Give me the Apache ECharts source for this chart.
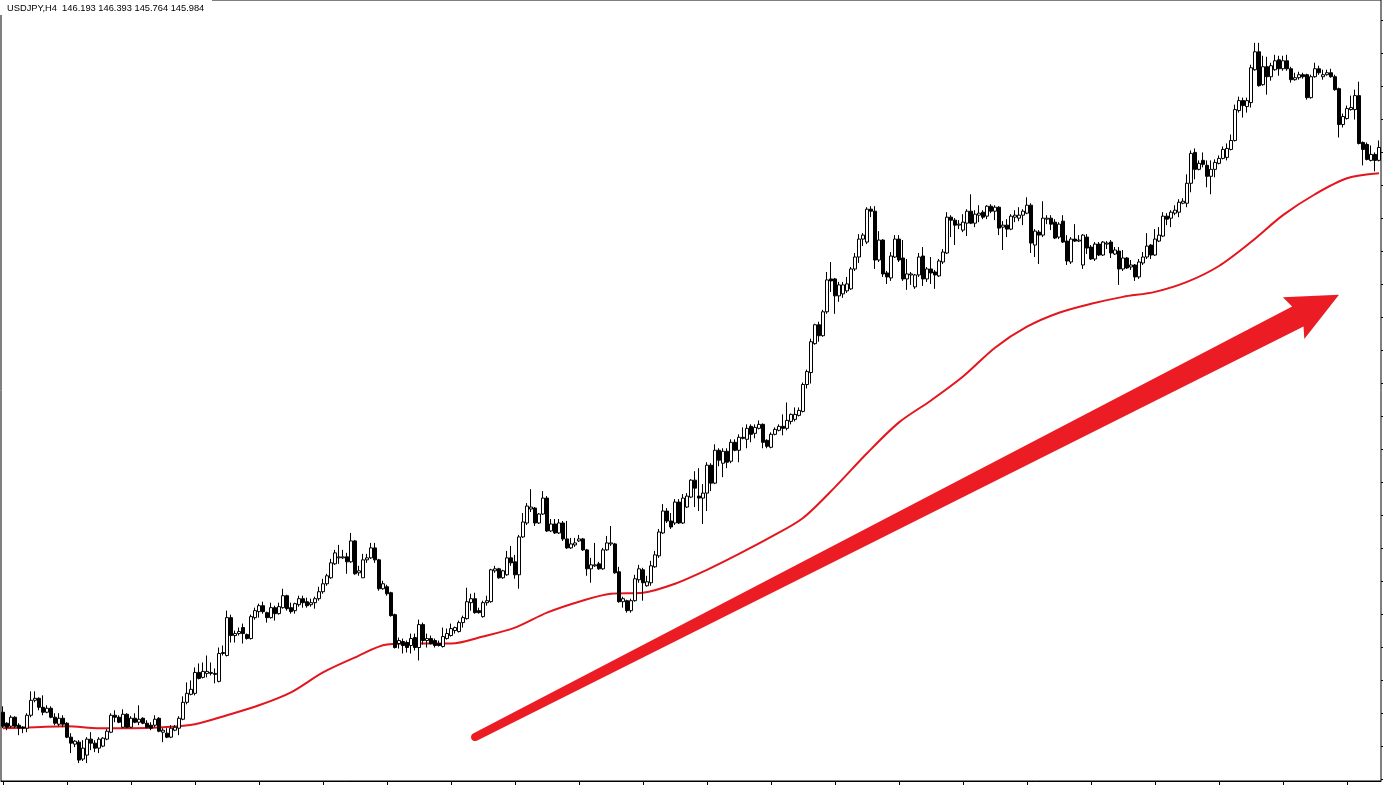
<!DOCTYPE html>
<html><head><meta charset="utf-8">
<script src="https://cdn.jsdelivr.net/npm/echarts@6/dist/echarts.min.js"></script>
<style>html,body{margin:0;padding:0;background:#fff;overflow:hidden}#c{width:1383px;height:785px}</style>
</head><body><div id="c"></div><script>
const headerText = 'USDJPY,H4  146.193 146.393 145.764 145.984';

const openP = [140.38,140.27,140.24,140.33,140.25,140.23,140.22,140.35,140.50,140.52,
140.43,140.38,140.42,140.33,140.26,140.32,140.27,140.13,140.06,140.08,
139.91,139.95,140.11,140.07,140.02,140.04,140.11,140.18,140.35,140.33,
140.23,140.36,140.23,140.32,140.28,140.32,140.27,140.25,140.25,140.32,
140.18,140.17,140.13,140.20,140.22,140.31,140.48,140.56,140.57,140.78,
140.73,140.77,140.77,140.76,140.69,140.97,140.95,141.33,141.15,141.17,
141.23,141.16,141.12,141.33,141.39,141.45,141.38,141.33,141.43,141.37,
141.43,141.55,141.43,141.40,141.46,141.52,141.49,141.46,141.48,141.52,
141.59,141.67,141.73,141.87,141.93,141.93,141.94,141.89,142.10,141.78,
141.73,141.91,141.93,142.03,141.91,141.62,141.64,141.58,141.36,141.07,
141.09,141.08,141.05,141.13,141.03,141.26,141.10,141.12,141.10,141.07,
141.04,141.12,141.15,141.20,141.19,141.28,141.32,141.48,141.52,141.40,
141.34,141.48,141.49,141.80,141.82,141.73,141.76,141.93,141.89,141.76,
142.14,142.28,142.42,142.43,142.28,142.37,142.53,142.20,142.27,142.18,
142.28,142.12,142.03,142.06,142.10,142.12,142.01,141.82,141.85,141.87,
141.82,142.01,142.07,142.07,141.79,141.49,141.50,141.40,141.50,141.71,
141.81,141.65,141.68,141.84,141.95,142.18,142.40,142.30,142.28,142.49,
142.28,142.44,142.54,142.71,142.55,142.53,142.58,142.86,142.68,143.01,
142.88,143.00,142.90,143.09,143.01,143.14,143.12,143.25,143.18,143.23,
143.27,143.11,143.04,143.17,143.21,143.25,143.23,143.30,143.32,143.36,
143.40,143.67,143.79,144.08,144.27,144.16,144.40,144.73,144.73,144.56,
144.58,144.61,144.63,144.83,144.95,145.13,145.10,145.43,145.41,144.92,
145.12,144.79,144.74,144.95,145.13,144.94,144.73,144.77,144.65,144.77,
144.96,144.73,144.83,144.80,144.76,144.90,144.99,145.35,145.32,145.27,
145.22,145.29,145.41,145.29,145.37,145.40,145.36,145.46,145.41,145.45,
145.25,145.27,145.23,145.35,145.34,145.37,145.39,145.47,145.07,145.20,
145.17,145.33,145.34,145.30,145.15,145.31,145.11,144.90,145.13,145.11,
144.87,145.15,145.05,144.93,145.08,144.97,145.08,145.10,144.98,145.01,
144.83,144.94,144.85,144.87,144.75,144.89,144.95,145.07,144.97,145.11,
145.16,145.36,145.34,145.39,145.40,145.49,145.49,145.69,146.00,145.83,
145.92,145.87,145.76,145.83,145.89,145.94,145.95,146.03,146.12,146.42,
146.52,146.46,146.50,146.83,147.01,146.68,146.86,146.76,146.83,146.93,
146.84,146.92,146.84,146.73,146.75,146.78,146.78,146.55,146.76,146.84,
146.76,146.78,146.80,146.76,146.64,146.28,146.34,146.43,146.43,146.57,
146.10,146.08,145.92,145.98,145.92];

const closeP = [140.24,140.23,140.33,140.24,140.22,140.22,140.35,140.50,140.52,140.43,
140.38,140.42,140.33,140.27,140.32,140.26,140.13,140.07,140.09,139.90,
140.02,140.11,140.07,140.02,140.11,140.12,140.19,140.35,140.33,140.28,
140.36,140.23,140.32,140.28,140.31,140.27,140.23,140.22,140.31,140.19,
140.20,140.13,140.22,140.23,140.32,140.48,140.57,140.61,140.78,140.72,
140.79,140.79,140.78,140.77,140.97,140.98,141.33,141.15,141.17,141.19,
141.17,141.12,141.34,141.40,141.45,141.39,141.33,141.43,141.37,141.44,
141.55,141.42,141.39,141.47,141.52,141.48,141.45,141.48,141.52,141.59,
141.67,141.75,141.88,141.98,141.94,141.94,141.89,142.10,141.77,141.80,
141.91,141.93,142.03,141.91,141.62,141.67,141.57,141.35,141.03,141.10,
141.05,141.03,141.12,141.03,141.26,141.10,141.12,141.07,141.05,141.05,
141.14,141.17,141.22,141.23,141.28,141.33,141.49,141.52,141.38,141.38,
141.48,141.50,141.81,141.82,141.73,141.80,141.93,141.88,141.76,142.14,
142.29,142.45,142.44,142.28,142.37,142.53,142.20,142.27,142.18,142.28,
142.12,142.03,142.07,142.08,142.12,142.01,141.82,141.86,141.86,141.82,
142.01,142.08,142.08,141.78,141.49,141.52,141.40,141.50,141.72,141.82,
141.68,141.69,141.85,141.96,142.19,142.40,142.30,142.24,142.49,142.28,
142.53,142.55,142.71,142.63,142.53,142.58,142.86,142.68,143.01,142.91,
143.00,142.89,143.09,143.01,143.14,143.13,143.23,143.17,143.24,143.27,
143.09,143.05,143.17,143.22,143.25,143.23,143.31,143.37,143.37,143.41,
143.67,143.80,144.10,144.27,144.16,144.40,144.72,144.71,144.56,144.67,
144.67,144.68,144.83,144.95,145.13,145.17,145.43,145.41,144.92,145.12,
144.78,144.75,144.96,145.13,144.92,144.73,144.78,144.78,144.77,144.95,
144.73,144.83,144.79,144.77,144.91,145.00,145.35,145.32,145.27,145.28,
145.30,145.41,145.29,145.38,145.39,145.35,145.46,145.41,145.45,145.24,
145.27,145.23,145.36,145.37,145.37,145.41,145.47,145.09,145.21,145.17,
145.34,145.34,145.28,145.14,145.28,145.10,144.91,145.13,145.11,145.12,
145.17,145.04,144.93,145.08,144.97,145.10,145.09,144.99,145.02,144.83,
144.94,144.84,144.87,144.75,144.90,144.95,145.06,144.97,145.13,145.17,
145.36,145.33,145.40,145.42,145.50,145.51,145.69,145.99,145.83,145.89,
145.88,145.76,145.83,145.90,145.94,146.03,146.04,146.12,146.43,146.52,
146.47,146.52,146.85,147.01,146.67,146.86,146.76,146.87,146.92,146.84,
146.92,146.84,146.73,146.75,146.78,146.76,146.55,146.76,146.84,146.80,
146.78,146.80,146.76,146.63,146.28,146.36,146.44,146.45,146.57,146.09,
146.03,145.93,145.98,145.92,146.05];

const lowP = [140.22,140.20,140.22,140.22,140.15,140.17,140.18,140.33,140.48,140.40,
140.35,140.37,140.32,140.25,140.24,140.23,140.12,139.97,140.03,139.87,
139.89,139.87,140.00,139.98,139.97,140.03,140.10,140.17,140.28,140.27,
140.22,140.22,140.22,140.27,140.25,140.26,140.22,140.20,140.23,140.18,
140.08,140.12,140.12,140.19,140.15,140.30,140.46,140.55,140.55,140.71,
140.72,140.73,140.75,140.67,140.68,140.95,140.94,141.08,141.08,141.15,
141.07,141.11,141.11,141.31,141.33,141.37,141.28,141.32,141.30,141.36,
141.42,141.40,141.37,141.37,141.44,141.43,141.43,141.44,141.42,141.50,
141.57,141.65,141.72,141.86,141.87,141.92,141.77,141.88,141.76,141.75,
141.73,141.88,141.92,141.88,141.60,141.61,141.55,141.34,141.02,141.02,
140.97,140.98,140.97,141.00,140.90,141.06,141.03,141.06,141.03,141.04,
141.03,141.11,141.14,141.17,141.18,141.23,141.31,141.40,141.37,141.37,
141.33,141.45,141.48,141.78,141.72,141.72,141.75,141.85,141.72,141.62,
142.13,142.26,142.39,142.25,142.27,142.36,142.19,142.19,142.17,142.17,
142.10,142.02,142.02,142.04,142.09,142.00,141.75,141.68,141.84,141.81,
141.81,142.00,142.05,141.77,141.48,141.43,141.38,141.38,141.49,141.68,
141.50,141.64,141.65,141.83,141.93,142.17,142.28,142.22,142.26,142.27,
142.27,142.43,142.53,142.44,142.40,142.27,142.40,142.60,142.67,142.85,
142.74,142.83,142.88,143.00,142.89,143.12,143.03,143.09,143.13,143.22,
143.03,143.03,143.03,143.16,143.20,143.16,143.21,143.27,143.30,143.35,
143.39,143.63,143.68,144.07,144.10,144.15,144.38,144.60,144.38,144.50,
144.54,144.59,144.62,144.81,144.89,145.06,145.08,145.35,144.83,144.90,
144.75,144.68,144.71,144.94,144.90,144.71,144.62,144.67,144.63,144.75,
144.66,144.70,144.68,144.63,144.75,144.88,144.98,145.15,145.07,145.23,
145.20,145.16,145.28,145.25,145.30,145.33,145.33,145.39,145.32,145.17,
145.02,145.15,145.22,145.30,145.31,145.27,145.38,144.99,144.95,144.88,
145.15,145.28,145.22,145.13,145.13,145.09,144.87,144.88,145.10,145.10,
144.83,144.98,144.92,144.91,144.96,144.96,145.03,144.94,144.97,144.67,
144.81,144.83,144.82,144.71,144.73,144.87,144.93,144.93,144.96,145.10,
145.15,145.27,145.25,145.37,145.35,145.48,145.45,145.60,145.73,145.82,
145.85,145.65,145.58,145.75,145.88,145.93,145.92,146.02,146.11,146.40,
146.35,146.40,146.45,146.82,146.66,146.67,146.58,146.72,146.82,146.77,
146.82,146.82,146.70,146.72,146.73,146.74,146.53,146.54,146.75,146.78,
146.73,146.77,146.75,146.62,146.15,146.25,146.33,146.42,146.33,146.08,
145.87,145.92,145.91,145.81,145.91];

const highP = [140.44,140.28,140.35,140.34,140.27,140.24,140.37,140.59,140.59,140.53,
140.55,140.45,140.44,140.37,140.37,140.35,140.28,140.17,140.10,140.10,
140.10,140.13,140.18,140.10,140.13,140.13,140.21,140.37,140.40,140.35,
140.41,140.37,140.34,140.37,140.45,140.33,140.30,140.28,140.35,140.33,
140.22,140.22,140.25,140.25,140.34,140.54,140.68,140.70,140.83,140.87,
140.88,140.95,140.88,140.82,141.03,141.05,141.40,141.36,141.20,141.23,
141.27,141.17,141.36,141.43,141.47,141.49,141.39,141.48,141.45,141.48,
141.62,141.56,141.48,141.48,141.55,141.55,141.53,141.52,141.54,141.64,
141.72,141.77,141.92,142.01,142.06,142.01,141.98,142.18,142.11,141.85,
141.97,141.97,142.08,142.08,141.92,141.70,141.66,141.59,141.37,141.13,
141.12,141.10,141.17,141.17,141.31,141.28,141.17,141.15,141.12,141.10,
141.23,141.22,141.27,141.24,141.30,141.35,141.63,141.57,141.58,141.43,
141.50,141.55,141.82,141.85,141.83,141.81,142.00,142.05,141.96,142.16,
142.38,142.48,142.62,142.44,142.38,142.60,142.55,142.32,142.32,142.32,
142.30,142.30,142.13,142.13,142.16,142.13,142.02,141.93,142.08,141.89,
142.03,142.15,142.25,142.08,141.84,141.54,141.51,141.52,141.76,141.86,
141.83,141.75,141.90,142.00,142.22,142.47,142.43,142.38,142.52,142.52,
142.57,142.58,142.72,142.80,142.83,142.67,142.89,142.88,143.07,143.03,
143.03,143.03,143.12,143.12,143.17,143.24,143.27,143.27,143.27,143.31,
143.28,143.12,143.19,143.24,143.27,143.37,143.49,143.38,143.44,143.44,
143.69,143.82,144.13,144.28,144.30,144.42,144.80,144.90,144.74,144.70,
144.70,144.75,144.85,144.99,145.18,145.19,145.45,145.46,145.46,145.21,
145.13,144.81,145.00,145.17,145.17,145.12,144.93,144.80,144.78,144.99,
145.05,144.85,144.95,144.82,144.93,145.03,145.40,145.37,145.34,145.32,
145.38,145.43,145.58,145.42,145.47,145.42,145.47,145.48,145.47,145.46,
145.31,145.33,145.38,145.42,145.45,145.43,145.55,145.49,145.23,145.22,
145.51,145.37,145.37,145.33,145.30,145.37,145.17,145.15,145.28,145.17,
145.18,145.18,145.07,145.10,145.10,145.11,145.11,145.12,145.05,145.05,
145.02,144.95,144.92,144.88,144.93,145.00,145.19,145.08,145.23,145.25,
145.40,145.39,145.42,145.47,145.53,145.54,145.78,146.02,146.04,145.92,
146.00,145.92,145.92,145.93,145.97,146.06,146.09,146.18,146.48,146.56,
146.55,146.55,146.88,147.10,147.10,146.97,146.96,146.90,146.98,146.97,
146.97,146.98,146.86,146.80,146.81,146.80,146.79,146.78,146.90,146.87,
146.83,146.83,146.84,146.78,146.65,146.39,146.47,146.57,146.63,146.71,
146.11,146.10,146.07,146.00,146.12];

// moving average read every 8th bar
const maIndex = [0,8,16,24,32,40,48,56,64,72,80,88,96,104,112,120,128,136,144,152,160,168,176,184,192,200,208,216,224,232,240,248,256,264,272,280,288,296,304,312,320,328,336,344];
const maValue = [140.22,140.23,140.24,140.22,140.22,140.23,140.26,140.35,140.45,140.58,140.78,140.93,141.06,141.07,141.07,141.14,141.23,141.38,141.49,141.57,141.58,141.67,141.81,141.97,142.14,142.33,142.64,142.98,143.29,143.51,143.75,144.04,144.25,144.39,144.48,144.55,144.60,144.70,144.86,145.10,145.37,145.58,145.74,145.79];

// trend arrow annotation: [tail bar, tail price, tip bar, tip price]
const arrowPoints = [117.5, 140.13, 333.5, 144.57];

const categories = openP.map((_, i) => String(i));
const candles = openP.map((o, i) => [o, closeP[i], lowP[i], highP[i]]);
const maData = categories.map(() => null);
maIndex.forEach((idx, k) => { maData[idx] = maValue[k]; });

const chart = echarts.init(document.getElementById('c'), null, {renderer: 'canvas'});
chart.setOption({
  animation: false,
  backgroundColor: '#ffffff',
  grid: [
    {left: 1, right: 2, top: -3, bottom: 4, show: true, borderColor: '#000', borderWidth: 1, backgroundColor: '#fff'},
    {left: 1, right: 2, top: 20, bottom: 6}
  ],
  xAxis: [
    {type: 'category', data: categories, boundaryGap: true, gridIndex: 0,
     axisLine: {show: true, onZero: false, lineStyle: {color: '#000', width: 1}},
     axisTick: {show: true, interval: 15, alignWithLabel: true, length: 4, lineStyle: {color: '#000'}},
     axisLabel: {show: false}, splitLine: {show: false}},
    {type: 'value', gridIndex: 1, show: false, min: 0, max: 1}
  ],
  yAxis: [
    {type: 'value', gridIndex: 0, min: 139.69, max: 147.53, scale: true,
     axisLine: {show: false}, axisTick: {show: false}, axisLabel: {show: false}, splitLine: {show: false}},
    {type: 'value', gridIndex: 1, min: 0, max: 23, interval: 1, position: 'right',
     axisLine: {show: false, onZero: false}, axisTick: {show: true, length: 3, lineStyle: {color: '#000'}},
     axisLabel: {show: false}, splitLine: {show: false}}
  ],
  graphic: [
    {type: 'rect', left: 0, top: 0, z: 99, shape: {width: 212, height: 15}, style: {fill: '#fff'}},
    {type: 'text', left: 7, top: 4, z: 100,
     style: {text: headerText, font: '9.3px "Liberation Sans", Arial, sans-serif', fill: '#000'}}
  ],
  series: [
    {type: 'line', data: maData, connectNulls: true, showSymbol: false, symbol: 'none', smooth: 0.3,
     lineStyle: {color: '#e3161d', width: 2}, silent: true, z: 2},
    {type: 'candlestick', data: candles, barWidth: 3, z: 3,
     itemStyle: {color: '#ffffff', color0: '#000000', borderColor: '#000000', borderColor0: '#000000', borderWidth: 1}},
    {type: 'custom', data: [arrowPoints], clip: false, silent: true, z: 5,
     encode: {x: 0, y: 1},
     renderItem: function (params, api) {
       const t = api.coord([api.value(0), api.value(1)]);
       const p = api.coord([api.value(2), api.value(3)]);
       const dx = p[0] - t[0], dy = p[1] - t[1];
       const L = Math.hypot(dx, dy);
       const ux = dx / L, uy = dy / L, nx = -uy, ny = ux;
       const pt = (a, b) => [t[0] + ux * a + nx * b, t[1] + uy * a + ny * b];
       const pts = [];
       const r = 4;
       for (let k = 0; k <= 10; k++) {
         const ang = Math.PI / 2 + Math.PI * k / 10;
         pts.push(pt(r * Math.cos(ang), r * Math.sin(ang)));
       }
       pts.push(pt(L - 47, -11));
       pts.push(pt(L - 51, -23.5));
       pts.push(pt(L, 0));
       pts.push(pt(L - 51, 23.5));
       pts.push(pt(L - 46, 12));
       return {type: 'polygon', shape: {points: pts}, style: {fill: '#ec1c24'}};
     }}
  ]
});
</script></body></html>
